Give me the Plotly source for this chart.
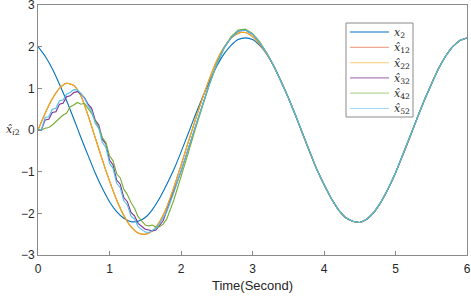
import plotly.graph_objects as go

# ---- data ----
t_x2 = [round(0.1 * i, 1) for i in range(61)]
x2 = [2.00, 1.77, 1.47, 1.10, 0.70, 0.27, -0.18, -0.61, -1.03, -1.40,
      -1.72, -1.96, -2.12, -2.20, -2.19, -2.10, -1.91, -1.64, -1.31, -0.95,
      -0.53, -0.09, 0.36, 0.78, 1.17, 1.53, 1.82, 2.03, 2.17, 2.21,
      2.17, 2.03, 1.82, 1.53, 1.17, 0.78, 0.36, -0.09, -0.53, -0.95,
      -1.31, -1.64, -1.91, -2.10, -2.19, -2.22, -2.14, -1.97, -1.72, -1.40,
      -1.03, -0.61, -0.18, 0.27, 0.70, 1.10, 1.47, 1.77, 2.00, 2.15, 2.21]

# smooth estimators (x̂12 and x̂22 overlap), 0 .. 3.5 s
t_smooth = [round(0.1 * i, 1) for i in range(36)]
xh12 = [0.00, 0.40, 0.75, 1.00, 1.12, 1.07, 0.82, 0.35, -0.18, -0.72,
        -1.22, -1.68, -2.05, -2.32, -2.47, -2.50, -2.42, -2.20, -1.86, -1.38,
        -0.85, -0.30, 0.24, 0.76, 1.24, 1.66, 1.98, 2.20, 2.32, 2.34,
        2.24, 2.06, 1.82, 1.52, 1.17, 0.78]
xh22 = list(xh12)

# stair-like estimators, 0 .. 1.8 s every 0.05 s, then 1.9 .. 3.5 s every 0.1 s
t_stair = [round(0.05 * i, 2) for i in range(37)] + [round(1.9 + 0.1 * i, 1) for i in range(17)]
xh32 = [0.00, 0.02, 0.24, 0.26, 0.42, 0.44, 0.62, 0.64, 0.80, 0.82,
        0.90, 0.92, 0.86, 0.78, 0.62, 0.52, 0.24, 0.12, -0.22, -0.34,
        -0.72, -0.84, -1.20, -1.30, -1.62, -1.72, -1.98, -2.06, -2.24, -2.30,
        -2.38, -2.40, -2.42, -2.40, -2.30, -2.18, -1.94,
        -1.48, -1.00, -0.46, 0.08, 0.62, 1.12, 1.58, 1.96, 2.22, 2.37,
        2.40, 2.30, 2.10, 1.84, 1.53, 1.17, 0.78]
xh42 = [0.00, 0.00, 0.04, 0.06, 0.12, 0.20, 0.28, 0.36, 0.40, 0.56,
        0.60, 0.66, 0.62, 0.64, 0.52, 0.40, 0.22, 0.05, -0.18, -0.30,
        -0.62, -0.74, -1.05, -1.15, -1.42, -1.55, -1.74, -1.88, -2.08, -2.18,
        -2.28, -2.30, -2.28, -2.33, -2.32, -2.26, -2.14,
        -1.68, -1.14, -0.56, 0.02, 0.58, 1.10, 1.57, 1.96, 2.24, 2.40,
        2.42, 2.32, 2.12, 1.85, 1.53, 1.17, 0.78]
xh52 = [0.00, 0.02, 0.30, 0.32, 0.50, 0.52, 0.70, 0.72, 0.86, 0.90,
        0.97, 0.96, 0.88, 0.76, 0.58, 0.46, 0.16, 0.04, -0.30, -0.42,
        -0.80, -0.92, -1.28, -1.38, -1.70, -1.80, -2.06, -2.14, -2.32, -2.38,
        -2.45, -2.46, -2.42, -2.36, -2.25, -2.12, -1.96,
        -1.50, -1.00, -0.46, 0.08, 0.62, 1.12, 1.58, 1.96, 2.22, 2.37,
        2.40, 2.30, 2.10, 1.84, 1.53, 1.17, 0.78]

x_ticks = [0, 1, 2, 3, 4, 5, 6]
y_ticks = [-3, -2, -1, 0, 1, 2, 3]

names = ["<i>x</i><sub>2</sub>", "<i>x̂</i><sub>12</sub>", "<i>x̂</i><sub>22</sub>",
         "<i>x̂</i><sub>32</sub>", "<i>x̂</i><sub>42</sub>", "<i>x̂</i><sub>52</sub>"]
colors = ["#0072BD", "#D95319", "#EDB120", "#7E2F8E", "#77AC30", "#4DBEEE"]
legend_colors = ["#0072BD", "#F0A890", "#F6D890", "#B07CBC", "#B8D698", "#A0DCF6"]

# tail after convergence: estimators follow x2
tail_t = [t for t in t_x2 if t > 3.55]
tail_v = [v for t, v in zip(t_x2, x2) if t > 3.55]

series = [
    (t_x2, x2, "spline"),
    (t_smooth + tail_t, xh12 + tail_v, "spline"),
    (t_smooth + tail_t, xh22 + tail_v, "spline"),
    (t_stair + tail_t, xh32 + tail_v, "linear"),
    (t_stair + tail_t, xh42 + tail_v, "linear"),
    (t_stair + tail_t, xh52 + tail_v, "linear"),
]

fig = go.Figure()
for (tt, vv, shp), nm, c in zip(series, names, colors):
    line = dict(color=c, width=1.1, shape=shp)
    if shp == "spline":
        line["smoothing"] = 0.6
    fig.add_trace(go.Scatter(x=tt, y=vv, mode="lines", name=nm, line=line, showlegend=False))

W, H = 471, 296
ML, MR, MT, MB = 38, 4, 5, 41
PW, PH = W - ML - MR, H - MT - MB


def px(xp):
    return (xp - ML) / PW


def py(yp):
    return 1 - (yp - MT) / PH


font_ax = dict(family="Liberation Sans, Arial", size=12, color="#262626")
axis_common = dict(showgrid=False, zeroline=False, showline=True, mirror=True,
                   linecolor="#8a8a8a", linewidth=1, ticks="inside", ticklen=4,
                   tickcolor="#8a8a8a", tickfont=font_ax, automargin=False,
                   ticklabeloverflow="allow")
fig.update_xaxes(range=[0, 6], tickvals=x_ticks, **axis_common, ticklabelstandoff=3,
                 title=dict(text="Time(Second)", font=dict(family="Liberation Sans, Arial", size=13, color="#262626"),
                            standoff=5))
fig.update_yaxes(range=[-3, 3], tickvals=y_ticks, **axis_common)

fig.add_annotation(text="<i>x̂</i><sub><i>i</i>2</sub>", xref="paper", yref="paper", x=-0.058, y=0.5,
                   showarrow=False, xanchor="center", yanchor="middle",
                   font=dict(family="DejaVu Serif", size=11, color="#262626"))

# legend box (drawn by hand to match the compact MATLAB legend)
fig.add_shape(type="rect", xref="paper", yref="paper",
              x0=px(346), x1=px(413), y0=py(117), y1=py(23),
              line=dict(color="#8a8a8a", width=1), fillcolor="white", layer="above")
for i, (nm, c) in enumerate(zip(names, legend_colors)):
    yc = 32 + 15.3 * i
    fig.add_shape(type="line", xref="paper", yref="paper",
                  x0=px(350), x1=px(389), y0=py(yc), y1=py(yc),
                  line=dict(color=c, width=1.2), layer="above")
    fig.add_annotation(text=nm, xref="paper", yref="paper", x=px(392), y=py(yc + 1),
                       showarrow=False, xanchor="left", yanchor="middle",
                       font=dict(family="DejaVu Serif", size=11, color="#262626"))

fig.update_layout(
    width=W, height=H,
    margin=dict(l=ML, r=MR, t=MT, b=MB),
    plot_bgcolor="white", paper_bgcolor="white",
    showlegend=False,
)

fig.write_html("out.html", config={"displayModeBar": False},
               post_script="document.body.style.margin='0px';document.body.style.overflow='hidden';")
